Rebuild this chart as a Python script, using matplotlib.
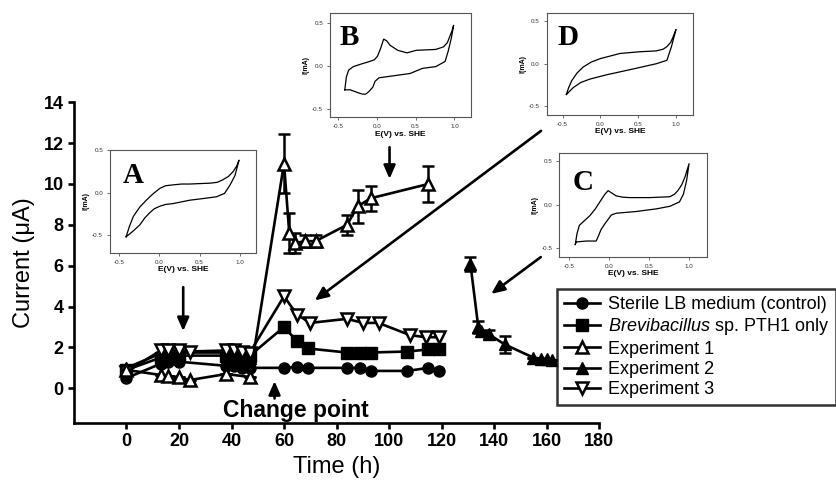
import numpy as np
import matplotlib
matplotlib.use("Agg")
import matplotlib.pyplot as plt
from matplotlib.lines import Line2D

plt.rcParams['font.family'] = ['Liberation Sans', 'DejaVu Sans']
plt.rcParams['mathtext.fontset'] = 'custom'
plt.rcParams['mathtext.it'] = 'Liberation Sans:italic'
plt.rcParams['mathtext.rm'] = 'Liberation Sans'

# ---- main time series (hours, microampere) ----
t_control = [0, 13, 16, 20, 38, 41, 44, 47, 60, 65, 69, 84, 89, 93, 107, 115, 119]
i_control = [0.5, 1.2, 1.3, 1.3, 1.1, 1.1, 1.0, 1.0, 1.0, 1.05, 1.0, 1.0, 1.0, 0.85, 0.85, 1.0, 0.85]

t_brevi = [0, 13, 16, 20, 38, 41, 44, 47, 60, 65, 69, 84, 89, 93, 107, 115, 119]
i_brevi = [0.9, 1.5, 1.5, 1.6, 1.6, 1.5, 1.6, 1.6, 3.0, 2.3, 1.95, 1.75, 1.75, 1.75, 1.8, 1.9, 1.9]

t_exp1 = [0, 13, 16, 20, 24, 38, 47, 60, 62, 64, 68, 72, 84, 88, 93, 115]
i_exp1 = [0.9, 0.65, 0.6, 0.55, 0.4, 0.7, 0.55, 11.0, 7.6, 7.1, 7.2, 7.2, 8.0, 8.9, 9.3, 10.0]
e_exp1 = [0, 0, 0, 0, 0, 0, 0, 1.45, 1.0, 0.5, 0.3, 0.3, 0.5, 0.8, 0.6, 0.9]

t_exp2 = [0, 13, 16, 20, 38, 41, 44, 47, np.nan, 131, 134, 135, 138, 144, 155, 158, 160, 162]
i_exp2 = [1.0, 1.7, 1.7, 1.75, 1.75, 1.7, 1.6, 1.5, np.nan, 6.1, 3.0, 2.8, 2.65, 2.15, 1.5, 1.45, 1.45, 1.4]
e_exp2 = [0, 0, 0, 0, 0, 0, 0, 0, 0, 0.35, 0.3, 0, 0.2, 0.4, 0, 0, 0, 0]

t_exp3 = [0, 13, 16, 20, 24, 38, 41, 44, 47, 60, 65, 70, 84, 90, 96, 108, 114, 119]
i_exp3 = [0.8, 1.85, 1.85, 1.85, 1.8, 1.85, 1.85, 1.8, 1.75, 4.5, 3.6, 3.2, 3.4, 3.2, 3.2, 2.6, 2.5, 2.5]

labels = ["Sterile LB medium (control)", r"$\it{Brevibacillus}$ sp. PTH1 only",
          "Experiment 1", "Experiment 2", "Experiment 3"]

# ---- cyclic voltammograms for the insets (E in V vs SHE, I in mA) ----
cv_a_e = [-0.41, -0.37, -0.32, -0.24, -0.16, -0.07, 0.01, 0.08, 0.17, 0.28, 0.38, 0.5, 0.63, 0.72, 0.79, 0.86, 0.92, 0.96, 0.99,
          0.94, 0.88, 0.81, 0.71, 0.55, 0.38, 0.17, 0.08, 0.01, -0.06, -0.12, -0.18, -0.24, -0.32, -0.41]
cv_a_i = [-0.52, -0.4, -0.28, -0.17, -0.09, -0.01, 0.05, 0.08, 0.09, 0.1, 0.10, 0.105, 0.11, 0.12, 0.15, 0.19, 0.25, 0.31, 0.38,
          0.2, 0.09, -0.01, -0.05, -0.07, -0.09, -0.13, -0.14, -0.16, -0.19, -0.24, -0.3, -0.38, -0.45, -0.52]

cv_b_e = [-0.41, -0.39, -0.36, -0.3, -0.2, -0.09, -0.03, 0.01, 0.05, 0.09, 0.13, 0.17, 0.27, 0.39, 0.51, 0.64, 0.76, 0.86, 0.91, 0.94, 0.97, 0.99,
          0.96, 0.92, 0.88, 0.76, 0.59, 0.43, 0.19, 0.03, -0.02, -0.05, -0.1, -0.14, -0.18, -0.22, -0.34, -0.41]
cv_b_i = [-0.28, -0.13, -0.05, -0.01, 0.02, 0.05, 0.07, 0.11, 0.2, 0.31, 0.29, 0.24, 0.18, 0.15, 0.18, 0.185, 0.19, 0.22, 0.27, 0.34, 0.41, 0.47,
          0.32, 0.17, 0.05, -0.01, -0.03, -0.09, -0.12, -0.14, -0.18, -0.25, -0.3, -0.33, -0.33, -0.32, -0.28, -0.28]

cv_c_e = [-0.42, -0.4, -0.37, -0.3, -0.24, -0.17, -0.10, -0.05, -0.01, 0.04, 0.09, 0.17, 0.26, 0.51, 0.76, 0.82, 0.86, 0.91, 0.95, 1.0,
          0.97, 0.93, 0.88, 0.76, 0.59, 0.34, 0.09, 0.03, -0.01, -0.05, -0.10, -0.13, -0.16, -0.28, -0.41, -0.42]
cv_c_i = [-0.46, -0.34, -0.24, -0.18, -0.13, -0.05, 0.05, 0.12, 0.16, 0.13, 0.10, 0.085, 0.08, 0.08, 0.09, 0.12, 0.16, 0.23, 0.32, 0.47,
          0.28, 0.12, 0.03, -0.02, -0.05, -0.08, -0.10, -0.12, -0.17, -0.22, -0.29, -0.36, -0.42, -0.42, -0.43, -0.46]

cv_d_e = [-0.45, -0.42, -0.38, -0.31, -0.23, -0.12, 0.0, 0.13, 0.26, 0.52, 0.74, 0.83, 0.88, 0.93, 0.96, 1.0,
          0.97, 0.94, 0.88, 0.74, 0.44, 0.08, -0.14, -0.26, -0.36, -0.45]
cv_d_i = [-0.36, -0.28, -0.20, -0.11, -0.04, 0.02, 0.06, 0.09, 0.12, 0.14, 0.15, 0.17, 0.20, 0.25, 0.31, 0.40,
          0.3, 0.20, 0.04, 0.0, -0.06, -0.13, -0.18, -0.22, -0.28, -0.36]

fig = plt.figure(figsize=(8.37, 4.94), dpi=100)
ax = fig.add_axes([0.0884, 0.1437, 0.6273, 0.6493])

lw = 1.9
ms = 8
ax.plot(t_control, i_control, '-o', color='black', lw=lw, ms=ms, zorder=3)
ax.plot(t_brevi, i_brevi, '-s', color='black', lw=lw, ms=ms, zorder=3)
ax.errorbar(t_exp1, i_exp1, yerr=e_exp1, fmt='-^', color='black', mfc='white', mew=1.8,
            lw=lw, ms=ms + 1, capsize=4, elinewidth=1.8, capthick=1.8, zorder=4)
ax.errorbar(t_exp2, i_exp2, yerr=e_exp2, fmt='-^', color='black', lw=lw, ms=ms + 1,
            capsize=4, elinewidth=1.8, capthick=1.8, zorder=3)
ax.plot(t_exp3, i_exp3, '-v', color='black', mfc='white', mew=1.8, lw=lw, ms=ms + 1, zorder=4)

ax.set_xlim(-20, 180)
ax.set_ylim(-1.7, 14)
ax.set_xticks(range(0, 181, 20))
ax.set_yticks(range(0, 15, 2))
ax.spines['top'].set_visible(False)
ax.spines['right'].set_visible(False)
for s in ['left', 'bottom']:
    ax.spines[s].set_linewidth(1.9)
ax.tick_params(direction='out', length=4, width=1.9, labelsize=13)
for lab in ax.get_xticklabels() + ax.get_yticklabels():
    lab.set_fontweight('bold')
ax.set_xlabel("Time (h)", fontsize=17, labelpad=4)
ax.set_ylabel("Current (\u03bcA)", fontsize=17, labelpad=6)

arrow = dict(arrowstyle='-|>,head_length=0.8,head_width=0.35', color='black', lw=1.9,
             shrinkA=0, shrinkB=0)
ax.annotate("", xy=(21.6, 2.8), xytext=(21.6, 4.95), arrowprops=arrow)
ax.annotate("", xy=(100.2, 10.25), xytext=(100.2, 11.8), arrowprops=arrow)
ax.annotate("", xy=(71.7, 4.3), xytext=(157.9, 12.6), arrowprops=arrow, annotation_clip=False)
ax.annotate("", xy=(138.9, 4.62), xytext=(157.8, 6.42), arrowprops=arrow, annotation_clip=False)
ax.annotate("", xy=(56.4, 0.35), xytext=(56.4, -0.5), arrowprops=arrow)
ax.text(64.7, -1.1, "Change point", ha='center', va='center', fontsize=16.5, fontweight='bold')

handles = [
    Line2D([], [], color='black', lw=lw, marker='o', ms=ms),
    Line2D([], [], color='black', lw=lw, marker='s', ms=ms),
    Line2D([], [], color='black', lw=lw, marker='^', ms=ms, mfc='white', mew=1.8),
    Line2D([], [], color='black', lw=lw, marker='^', ms=ms),
    Line2D([], [], color='black', lw=lw, marker='v', ms=ms, mfc='white', mew=1.8),
]
leg = ax.legend(handles, labels, loc='upper left', bbox_to_anchor=(557 / 837, 1 - 289 / 494),
                bbox_transform=fig.transFigure, fontsize=13, frameon=True, fancybox=False,
                edgecolor='black', handlelength=2.0, handletextpad=0.4, labelspacing=0.18,
                borderpad=0.4, borderaxespad=0)
leg.get_frame().set_linewidth(1.8)

insets = [
    ([0.1314, 0.4879, 0.1744, 0.2085], cv_a_e, cv_a_i, "A", (-0.61, 1.2), (-0.71, 0.5), (0.09, 0.88)),
    ([0.3943, 0.7625, 0.1681, 0.2105], cv_b_e, cv_b_i, "B", (-0.6, 1.21), (-0.6, 0.61), (0.07, 0.9)),
    ([0.6682, 0.4804, 0.1761, 0.2093], cv_c_e, cv_c_i, "C", (-0.62, 1.22), (-0.6, 0.59), (0.09, 0.85)),
    ([0.6532, 0.7672, 0.1752, 0.2059], cv_d_e, cv_d_i, "D", (-0.71, 1.23), (-0.6, 0.59), (0.07, 0.89)),
]
for rect, e, i, letter, xl, yl, pos in insets:
    ins = fig.add_axes(rect)
    ins.plot(e, i, color='black', lw=0.9)
    ins.set_xlim(*xl)
    ins.set_ylim(*yl)
    ins.set_xticks([-0.5, 0.0, 0.5, 1.0])
    ins.set_yticks([-0.5, 0.0, 0.5])
    ins.xaxis.set_major_formatter(matplotlib.ticker.FormatStrFormatter('%.1f'))
    ins.yaxis.set_major_formatter(matplotlib.ticker.FormatStrFormatter('%.1f'))
    ins.tick_params(labelsize=4.5, length=2, width=0.5, pad=3, colors='#333333')
    for s in ins.spines.values():
        s.set_linewidth(0.8)
        s.set_color('#555555')
    ins.set_xlabel("E(V) vs. SHE", fontsize=6, fontweight='bold', labelpad=1)
    ins.set_ylabel("I(mA)", fontsize=5, fontweight='bold', labelpad=2)
    ins.text(pos[0], pos[1], letter, transform=ins.transAxes, ha='left', va='top',
             fontsize=21, fontweight='bold', family='Liberation Serif')

fig.savefig("out.png", dpi=100)
